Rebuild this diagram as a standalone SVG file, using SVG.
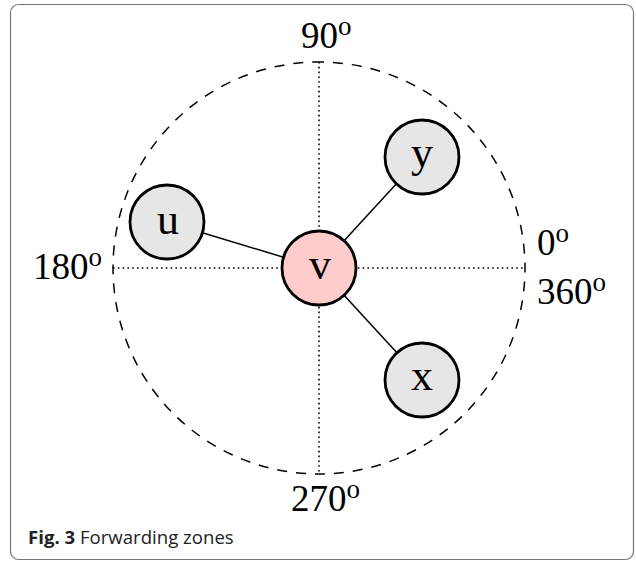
<svg xmlns="http://www.w3.org/2000/svg" width="636" height="562" viewBox="0 0 636 562">
<style>
.node{stroke:#000;stroke-width:2.8}
.gray{fill:#e6e6e6}
.pink{fill:#ffcccc}
.lbl{font-family:"Liberation Serif",serif;font-size:44px;text-anchor:middle;fill:#000}
.deg{font-family:"Liberation Serif",serif;font-size:37px;fill:#000}
.sup{font-size:27px}
.edge{stroke:#000;stroke-width:1.5;fill:none}
.dot{stroke:#000;stroke-width:1.6;stroke-dasharray:1.6 3.2;fill:none}
.dash{stroke:#000;stroke-width:1.5;stroke-dasharray:10 9;fill:none}
.cap{font-family:"Open Sans",sans-serif;font-size:18.6px;fill:#222}
</style>
<rect x="10.5" y="4.5" width="623" height="555" rx="8" fill="#fff" stroke="#777" stroke-width="1.2"/>
<g id="zones">
<circle cx="319" cy="268" r="206" class="dash" stroke-dashoffset="5" transform="rotate(-90 319 268)"/>
<line x1="113" y1="268" x2="525" y2="268" class="dot"/>
<line x1="319" y1="62" x2="319" y2="474" class="dot"/>
</g>
<g id="connectors">
<line x1="167" y1="222" x2="319" y2="268" class="edge"/>
<line x1="421" y1="157" x2="319" y2="268" class="edge"/>
<line x1="422" y1="380" x2="319" y2="268" class="edge"/>
</g>
<g id="node-u"><circle cx="167" cy="222" r="37" class="node gray"/><text x="168" y="234" class="lbl">u</text></g>
<g id="node-y"><circle cx="422" cy="157" r="37" class="node gray"/><text x="422" y="167" class="lbl">y</text></g>
<g id="node-x"><circle cx="422" cy="380" r="37" class="node gray"/><text x="422" y="390" class="lbl">x</text></g>
<g id="node-v"><circle cx="319" cy="268" r="37" class="node pink"/><text x="320" y="279" class="lbl">v</text></g>
<g id="labels">
<text x="301" y="48" class="deg">90<tspan class="sup" dy="-13">o</tspan></text>
<text x="291" y="511" class="deg">270<tspan class="sup" dy="-13">o</tspan></text>
<text x="33" y="279" class="deg">180<tspan class="sup" dy="-13">o</tspan></text>
<text x="537" y="255" class="deg">0<tspan class="sup" dy="-13">o</tspan></text>
<text x="537" y="304" class="deg">360<tspan class="sup" dy="-13">o</tspan></text>
</g>
<text x="28" y="544" class="cap"><tspan font-weight="bold">Fig. 3</tspan> Forwarding zones</text>
</svg>
